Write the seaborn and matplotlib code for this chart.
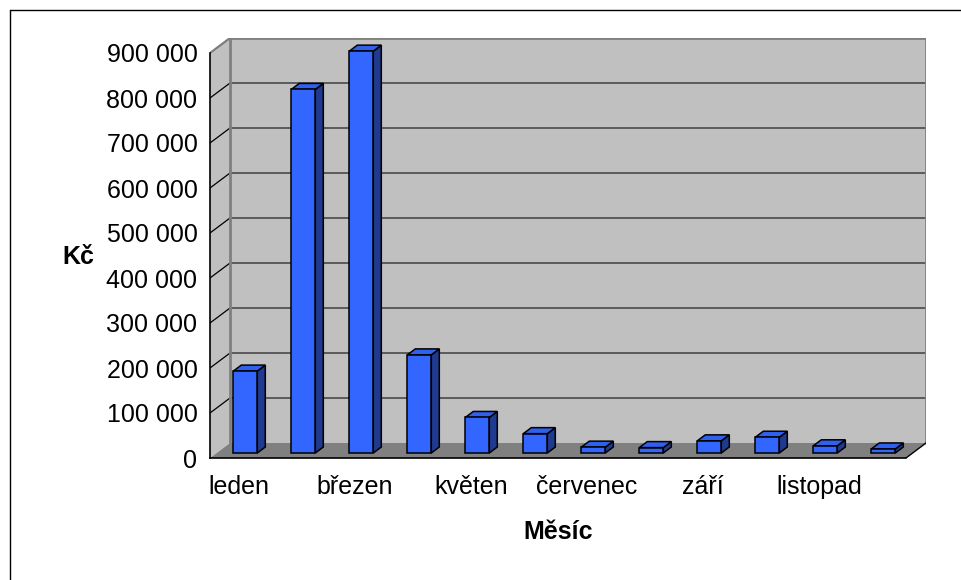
import matplotlib
matplotlib.use("Agg")
import matplotlib.pyplot as plt
import matplotlib.patches as mpatches
from matplotlib.lines import Line2D
import seaborn as sns
import pandas as pd

months = ["leden", "únor", "březen", "duben", "květen", "červen",
          "červenec", "srpen", "září", "říjen", "listopad", "prosinec"]
values = [182000, 808000, 893000, 218000, 79000, 43000,
          13000, 12000, 27000, 35000, 16000, 9000]
yticks = [0, 100000, 200000, 300000, 400000, 500000, 600000, 700000, 800000, 900000]
shown_labels = ["leden", "březen", "květen", "červenec", "září", "listopad"]

df = pd.DataFrame({"Měsíc": months, "Kč": values})

sns.set_style("white")
plt.rcParams["font.family"] = ["Liberation Sans", "DejaVu Sans"]
plt.rcParams["text.color"] = "black"
plt.rcParams["xtick.color"] = "black"
plt.rcParams["ytick.color"] = "black"
plt.rcParams["xtick.labelcolor"] = "black"
plt.rcParams["ytick.labelcolor"] = "black"

W, H = 961, 580
fig = plt.figure(figsize=(W / 100, H / 100), dpi=100)

# pixel geometry of the 3D box
cat_px = 58.0           # px per category
val_px = 45.0 / 100000  # px per Kč
depth_x, depth_y = 20, 15   # wall depth in px
ymax = 900000
n = len(months)

px_x = 1 / cat_px
px_y = 1 / val_px
DX, DY = depth_x * px_x, depth_y * px_y

left_px, bottom_px = 210, 458
x0, x1 = -0.5, n - 0.5 + DX
y1 = ymax + DY
ax = fig.add_axes([left_px / W, (H - bottom_px) / H,
                   (x1 - x0) * cat_px / W, (y1 * val_px) / H])

wall = "#C0C0C0"
floor = "#808080"
edge = "#808080"

# walls and floor
ax.add_patch(mpatches.Polygon([(x0, 0), (x0, ymax), (x0 + DX, ymax + DY), (x0 + DX, DY)],
                              closed=True, facecolor=wall, edgecolor="none", zorder=0))
ax.add_patch(mpatches.Rectangle((x0 + DX, DY), n, ymax, facecolor=wall,
                                edgecolor="none", zorder=0))
ax.add_patch(mpatches.Polygon([(x0, 0), (n - 0.5, 0), (n - 0.5 + DX, DY), (x0 + DX, DY)],
                              closed=True, facecolor=floor, edgecolor="none", zorder=0.5))
for v in yticks[1:-1]:
    ax.plot([x0 + DX, n - 0.5 + DX], [v + DY, v + DY], color="#404040", lw=1.1, zorder=0.6)
for v in yticks[1:]:
    ax.plot([x0, x0 + DX], [v, v + DY], color="black", lw=0.9, zorder=0.6)
# wall borders
ax.plot([x0 + DX, x0 + DX, n - 0.5 + DX, n - 0.5 + DX],
        [DY, ymax + DY, ymax + DY, DY], color=edge, lw=2, zorder=0.7)
ax.plot([x0, x0 + DX], [ymax, ymax + DY], color=edge, lw=1.5, zorder=0.7)
ax.plot([n - 0.5, n - 0.5 + DX], [0, DY], color="black", lw=1, zorder=0.7)

# bars
bar_w = 24 * px_x
sns.barplot(data=df, x="Měsíc", y="Kč", order=months, color="#3366FF",
            width=bar_w, edgecolor="black", linewidth=1.1, saturation=1,
            ax=ax, zorder=3)
front_dx, front_dy = 6.3 * px_x, 5 * px_y
bdx, bdy = 8 * px_x, 6 * px_y
bars = list(ax.containers[0])
for p in bars:
    bx = p.get_x() + front_dx
    h = p.get_height()
    p.set_x(bx)
    p.set_y(front_dy)
    p.set_zorder(3)
    by = front_dy
    side = [(bx + bar_w, by), (bx + bar_w + bdx, by + bdy),
            (bx + bar_w + bdx, by + h + bdy), (bx + bar_w, by + h)]
    top = [(bx, by + h), (bx + bar_w, by + h),
           (bx + bar_w + bdx, by + h + bdy), (bx + bdx, by + h + bdy)]
    ax.add_patch(mpatches.Polygon(side, closed=True, facecolor="#1F3A8F",
                                  edgecolor="black", lw=1.1, zorder=2.9))
    ax.add_patch(mpatches.Polygon(top, closed=True, facecolor="#3060EE",
                                  edgecolor="black", lw=1.1, zorder=2.9))

ax.set_xlim(x0, x1)
ax.set_ylim(0, y1)

# axes
for s in ["top", "right"]:
    ax.spines[s].set_visible(False)
ax.spines["left"].set_bounds(0, ymax)
ax.spines["bottom"].set_bounds(x0, n - 0.5)
for s in ["left", "bottom"]:
    ax.spines[s].set_zorder(5)
    ax.spines[s].set_color("black")
    ax.spines[s].set_linewidth(1.2)

ax.set_yticks(yticks)
ax.set_yticklabels([f"{v:,}".replace(",", " ") for v in yticks])
ax.set_xticks([i - 0.5 for i in range(n + 1)])
ax.set_xticklabels([])
ax.set_xticks([months.index(m) for m in shown_labels], minor=True)
ax.set_xticklabels(shown_labels, minor=True)
ax.tick_params(axis="both", which="major", direction="out", length=5, width=1,
               color="black", labelcolor="black", labelsize=18, pad=4)
ax.tick_params(axis="x", which="minor", length=0, labelsize=18, pad=12,
               labelcolor="black")
ax.set_xlabel("")
ax.set_ylabel("")
ax.grid(False)

fig.text(558 / W, 1 - 532 / H, "Měsíc", ha="center", va="center",
         fontsize=18, fontweight="bold", color="black")
fig.text(78 / W, 1 - 257 / H, "Kč", ha="center", va="center",
         fontsize=18, fontweight="bold", color="black")

# outer frame (cropped at right and bottom)
fig.add_artist(Line2D([9.5 / W, 9.5 / W], [0, 1 - 9.5 / H], color="black", lw=1))
fig.add_artist(Line2D([9.5 / W, 1], [1 - 9.5 / H, 1 - 9.5 / H], color="black", lw=1))

fig.savefig("out.png", dpi=100)
